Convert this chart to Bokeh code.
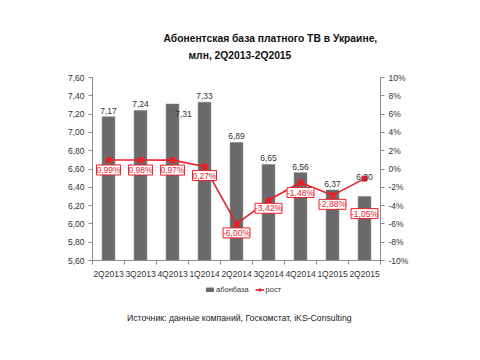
import numpy as np
from bokeh.plotting import figure
from bokeh.layouts import column
from bokeh.models import (Range1d, LinearAxis, FixedTicker, CustomJSTickFormatter,
                          ColumnDataSource, LabelSet, Label, Legend, LegendItem)
from bokeh.core.properties import value
from bokeh.embed import file_html
from bokeh.resources import INLINE

categories = ["2Q2013", "3Q2013", "4Q2013", "1Q2014", "2Q2014", "3Q2014", "4Q2014", "1Q2015", "2Q2015"]
subscribers = [7.17, 7.24, 7.31, 7.33, 6.89, 6.65, 6.56, 6.37, 6.30]
growth = [0.99, 0.98, 0.97, 0.27, -6.00, -3.42, -1.48, -2.88, -1.05]
left_ticks = [5.6, 5.8, 6.0, 6.2, 6.4, 6.6, 6.8, 7.0, 7.2, 7.4, 7.6]
right_ticks = [-10, -8, -6, -4, -2, 0, 2, 4, 6, 8, 10]
series_names = ["абонбаза", "рост"]

title1 = "Абонентская база платного ТВ  в Украине,"
title2 = "млн, 2Q2013-2Q2015"
source_text = "Источник: данные компаний, Госкомстат,  iKS-Consulting"

FONT = "Arial"
BAR = "#6a6a6a"
RED = "#e8202a"
AX = "#8c8c8c"
TXT = "#333333"

n = len(categories)
xs = np.arange(n) + 0.5

# label offsets (layout only)
bar_dx = [0, 0, 11, 0, 0, 0, 0, 0, 0]
bar_dy = [3, 3, -13, 3, 3, 3, 3, 3, 16]
gr_dy = [-10, -10, -10, -9, -9, -8, -10, -9, -35]

src = ColumnDataSource(dict(
    x=xs, top=subscribers, g=growth,
    vlab=[f"{v:.2f}".replace(".", ",") for v in subscribers],
    glab=[f"{v:.2f}".replace(".", ",") + "%" for v in growth],
    bdx=bar_dx, bdy=bar_dy, gdy=gr_dy,
))

# frames of the stacked figures are aligned: left edge 92, right edge 380
FL, FR = 92, 380

# ---------- title strip ----------
top = figure(width=480, height=67, output_backend="svg", toolbar_location=None,
             x_range=Range1d(FL, FR), y_range=Range1d(0, 67), min_border=0,
             x_axis_location=None, y_axis_location=None, outline_line_color=None)
top.grid.visible = False
top.add_layout(Label(x=163, y=29, text=title1, text_align="left", text_baseline="middle",
                     text_font=FONT, text_font_style="bold", text_font_size="10.3px",
                     text_color="#111111"))
top.add_layout(Label(x=188, y=12, text=title2, text_align="left", text_baseline="middle",
                     text_font=FONT, text_font_style="bold", text_font_size="10.3px",
                     text_color="#111111"))

# ---------- main chart ----------
p = figure(frame_width=FR - FL, frame_height=183, output_backend="svg", toolbar_location=None,
           x_range=Range1d(0, n), y_range=Range1d(5.6, 7.6),
           min_border_left=FL, min_border_right=480 - FR, min_border_top=10, min_border_bottom=24,
           x_axis_location=None, y_axis_location=None, outline_line_color=None)
p.grid.visible = False
p.extra_y_ranges = {"pct": Range1d(-10, 10)}

xa = LinearAxis(ticker=FixedTicker(ticks=list(xs), minor_ticks=list(range(n + 1))),
                major_label_overrides={float(x): c for x, c in zip(xs, categories)})
xa.major_tick_out = 0
xa.major_tick_in = 0
xa.minor_tick_out = 4
xa.minor_tick_in = 0
p.add_layout(xa, "below")

ya = LinearAxis(ticker=FixedTicker(ticks=left_ticks, minor_ticks=[]),
                formatter=CustomJSTickFormatter(code="return tick.toFixed(2).replace('.', ',');"))
ya.major_tick_out = 4
ya.major_tick_in = 0
p.add_layout(ya, "left")

yr = LinearAxis(y_range_name="pct", ticker=FixedTicker(ticks=right_ticks, minor_ticks=[]),
                formatter=CustomJSTickFormatter(code="return tick.toFixed(0) + '%';"))
yr.major_tick_out = 4
yr.major_tick_in = 0
p.add_layout(yr, "right")

for ax in (xa, ya, yr):
    ax.axis_line_color = AX
    ax.major_tick_line_color = AX
    ax.minor_tick_line_color = AX
    ax.major_label_text_font = FONT
    ax.major_label_text_font_size = "8.5px"
    ax.major_label_text_color = TXT
    ax.major_label_standoff = 4

p.vbar(x="x", top="top", bottom=5.6, width=0.4, source=src,
       fill_color=BAR, line_color="#7a7a7a", line_width=0.5)
p.line(x="x", y="g", source=src, y_range_name="pct", line_color=RED, line_width=1.6)
p.scatter(x="x", y="g", source=src, y_range_name="pct", marker="square", size=5,
          fill_color=RED, line_color=RED)

p.add_layout(LabelSet(x="x", y="top", text="vlab", source=src, x_offset="bdx", y_offset="bdy",
                      text_align="center", text_baseline="bottom", text_font=value(FONT),
                      text_font_size=value("8.5px"), text_color=TXT))
p.add_layout(LabelSet(x="x", y="g", text="glab", source=src, y_range_name="pct", y_offset="gdy",
                      text_align="center", text_baseline="middle", text_font=value(FONT),
                      text_font_size=value("8.5px"), text_color=RED,
                      background_fill_color="white", border_line_color=RED, border_line_width=1))

# ---------- legend + source strip ----------
bot = figure(width=480, height=76, output_backend="svg", toolbar_location=None,
             x_range=Range1d(FL, FR), y_range=Range1d(0, 76), min_border=0,
             x_axis_location=None, y_axis_location=None, outline_line_color=None)
bot.grid.visible = False
# legend proxies: one undrawn (NaN) entry each, only their style is used by the legend
proxy = ColumnDataSource(dict(x=[np.nan], top=[np.nan], y=[np.nan]))
lb = bot.vbar(x="x", top="top", bottom=0, width=1, source=proxy, fill_color=BAR, line_color=BAR)
ll = bot.line(x="x", y="y", source=proxy, line_color=RED, line_width=1.6)
lm = bot.scatter(x="x", y="y", source=proxy, marker="square", size=5,
                 fill_color=RED, line_color=RED)
legend = Legend(items=[LegendItem(label=series_names[0], renderers=[lb]),
                       LegendItem(label=series_names[1], renderers=[ll, lm])],
                orientation="horizontal", location=(205 - FL, 76 - 10),
                label_text_font=FONT, label_text_font_size="7.5px", label_text_color=TXT,
                glyph_width=9, glyph_height=5, label_height=8, label_standoff=2, spacing=6,
                padding=0, margin=0, border_line_color=None, background_fill_alpha=0)
bot.add_layout(legend, "center")
bot.add_layout(Label(x=240, y=76 - 33, text=source_text, text_align="center", text_baseline="middle",
                     text_font=FONT, text_font_size="8.7px", text_color="#222222"))

layout = column(top, p, bot, spacing=0)
open("out.html", "w").write(file_html(layout, INLINE))
